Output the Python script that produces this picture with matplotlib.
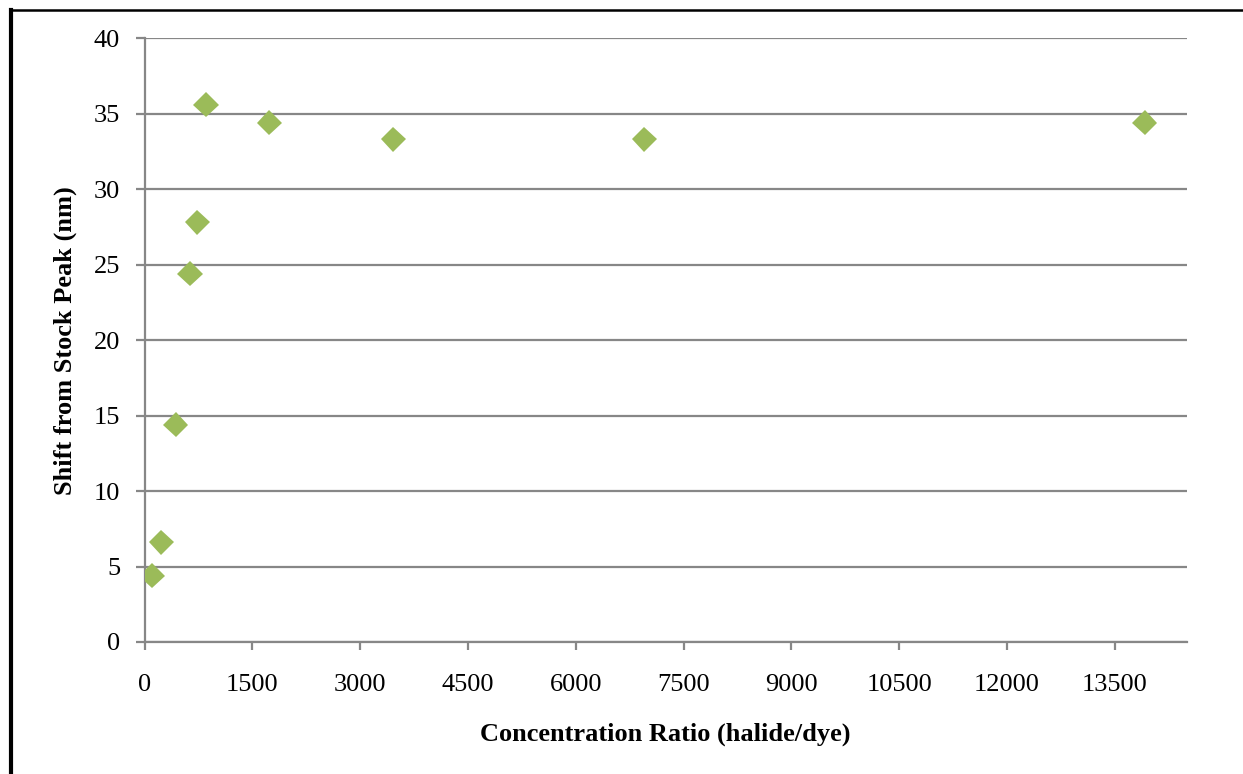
import matplotlib
matplotlib.use("Agg")
import matplotlib.pyplot as plt
import matplotlib.patheffects as pe
from matplotlib.lines import Line2D

# Halide/dye concentration ratio vs. peak shift
ratio = [104, 234, 434, 633, 735, 856, 1737, 3463, 6953, 13913]
shift_nm = [4.4, 6.6, 14.4, 24.4, 27.8, 35.6, 34.4, 33.3, 33.3, 34.4]

x_ticks = [0, 1500, 3000, 4500, 6000, 7500, 9000, 10500, 12000, 13500]
y_ticks = [0, 5, 10, 15, 20, 25, 30, 35, 40]

plt.rcParams['font.family'] = ['Liberation Serif', 'DejaVu Serif']

W, H = 1243, 774
fig = plt.figure(figsize=(W / 100, H / 100), dpi=100)
ax = fig.add_axes([144.5 / W, 1 - 642 / H, (1186.7 - 144.5) / W, (642 - 38.3) / H])

grid_c = '#878787'
ax.set_xlim(0, 14500)
ax.set_ylim(0, 40)
ax.set_xticks(x_ticks)
ax.set_yticks(y_ticks)
ax.set_xticklabels([str(v) for v in x_ticks])
ax.set_yticklabels([str(v) for v in y_ticks])

ax.grid(axis='y', color=grid_c, linewidth=1.6)
ax.set_axisbelow(True)
for side in ('top', 'right'):
    ax.spines[side].set_visible(False)
for side in ('left', 'bottom'):
    ax.spines[side].set_color(grid_c)
    ax.spines[side].set_linewidth(1.6)

ax.tick_params(axis='x', direction='out', length=6, width=1.6, color=grid_c,
               labelsize=19, pad=17)
ax.tick_params(axis='y', direction='out', length=6.5, width=1.6, color=grid_c,
               labelsize=19, pad=11)

ax.plot(ratio, shift_nm, linestyle='none', marker='D', markersize=12.8,
        markerfacecolor='#9BBB59', markeredgecolor='#9BBB59', markeredgewidth=0,
        zorder=3,
        path_effects=[pe.SimpleLineShadow(offset=(1.2, -1.8), shadow_color='#7f7f7f',
                                          alpha=0.35),
                      pe.Normal()])

ax.set_xlabel('Concentration Ratio (halide/dye)', fontsize=19, fontweight='bold',
              labelpad=19)
ax.set_ylabel('Shift from Stock Peak (nm)', fontsize=19, fontweight='bold',
              labelpad=12)

# page border lines
fig.add_artist(Line2D([11 / W, 11 / W], [0, 1 - 10 / H], color='black',
                      linewidth=3, transform=fig.transFigure))
fig.add_artist(Line2D([9.5 / W, 1], [1 - 10 / H, 1 - 10 / H], color='black',
                      linewidth=1.8, transform=fig.transFigure))

fig.savefig('out.png', dpi=100)
